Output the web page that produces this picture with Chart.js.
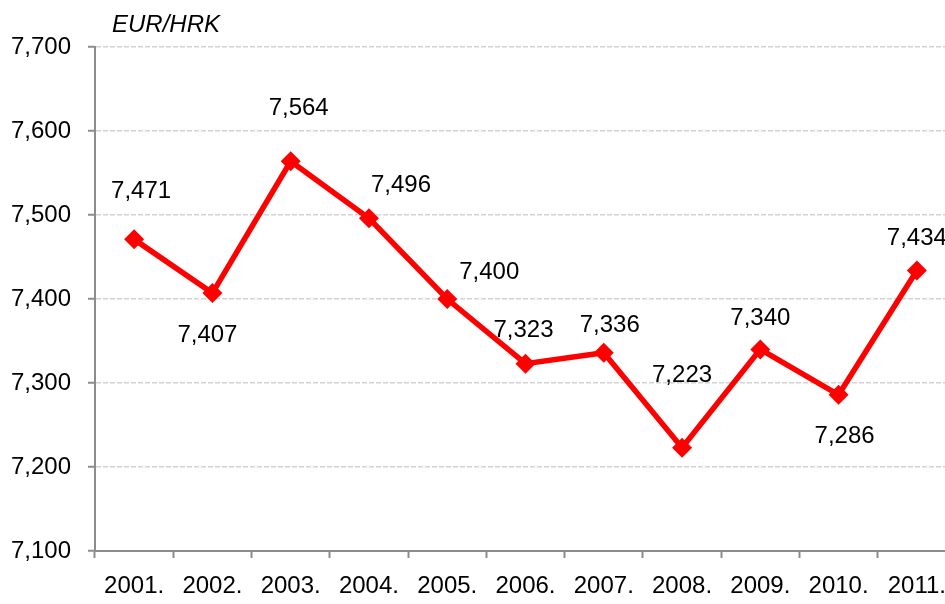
<!DOCTYPE html>
<html>
<head>
<meta charset="utf-8">
<script src="https://cdn.jsdelivr.net/npm/chart.js@4"></script>
<style>
  html, body { margin: 0; padding: 0; background: #fff; overflow: hidden; }
  #wrap { position: relative; width: 945px; height: 604px; overflow: hidden; }
  #unit { position: absolute; left: 112px; top: 10px; font: italic 24px "Liberation Sans", Arial, sans-serif; color: #000; }
  canvas { position: absolute; left: 0; top: 0; }
</style>
</head>
<body>
<div id="wrap">
  <canvas id="chart" width="966" height="604"></canvas>
  <div id="unit">EUR/HRK</div>
</div>
<script>
const years = ['2001.', '2002.', '2003.', '2004.', '2005.', '2006.', '2007.', '2008.', '2009.', '2010.', '2011.'];
const rates = [7.471, 7.407, 7.564, 7.496, 7.400, 7.323, 7.336, 7.223, 7.340, 7.286, 7.434];
const yTicks = [7.1, 7.2, 7.3, 7.4, 7.5, 7.6, 7.7];

// where each value label sits relative to its point (px)
const labelOffsets = [
  [7, -48], [-5, 42], [8, -53], [32, -33], [42, -27], [-2, -33],
  [6, -27], [0, -72], [0, -31], [6, 42], [0, -32],
];

const fmt = (v) => v.toFixed(3).replace('.', ',');
const font = '"Liberation Sans", Arial, sans-serif';

const valueLabels = {
  id: 'valueLabels',
  afterDatasetsDraw(chart) {
    const ctx = chart.ctx;
    const meta = chart.getDatasetMeta(0);
    ctx.save();
    ctx.font = '24px ' + font;
    ctx.fillStyle = '#000';
    ctx.textAlign = 'center';
    ctx.textBaseline = 'middle';
    meta.data.forEach((pt, i) => {
      const [dx, dy] = labelOffsets[i];
      ctx.fillText(fmt(rates[i]), pt.x + dx, pt.y + dy);
    });
    ctx.restore();
  },
};

new Chart(document.getElementById('chart').getContext('2d'), {
  type: 'line',
  data: {
    labels: years,
    datasets: [{
      data: rates,
      borderColor: '#ff0000',
      backgroundColor: '#ff0000',
      borderWidth: 5.5,
      pointStyle: 'rectRot',
      pointRadius: 10,
      pointHoverRadius: 10,
      pointBorderWidth: 0,
      tension: 0,
    }],
  },
  options: {
    responsive: false,
    animation: false,
    layout: { padding: { top: 47, left: 0, right: 0, bottom: 0 } },
    plugins: {
      legend: { display: false },
      tooltip: { enabled: false },
    },
    scales: {
      x: {
        offset: true,
        grid: {
          offset: true,
          drawOnChartArea: false,
          drawTicks: true,
          tickLength: 7,
          tickColor: '#8c8c8c',
          tickWidth: 2,
        },
        border: { color: '#8c8c8c', width: 2 },
        ticks: {
          color: '#000',
          font: { family: font, size: 24 },
          padding: 14,
          maxRotation: 0,
          autoSkip: false,
        },
        afterFit(scale) { scale.height = 53; },
      },
      y: {
        min: 7.1,
        max: 7.7,
        afterBuildTicks(scale) { scale.ticks = yTicks.map((v) => ({ value: v })); },
        grid: {
          color: '#d4d4d4',
          lineWidth: 1.5,
          drawTicks: true,
          tickLength: 7,
          tickColor: '#8c8c8c',
          tickWidth: 2,
          tickBorderDash: [],
        },
        border: { color: '#8c8c8c', width: 2, dash: [5, 2] },
        ticks: {
          color: '#000',
          font: { family: font, size: 24 },
          padding: 17,
          callback: (v) => fmt(v),
        },
        afterFit(scale) { scale.width = 95; },
      },
    },
  },
  plugins: [valueLabels],
});
</script>
</body>
</html>
